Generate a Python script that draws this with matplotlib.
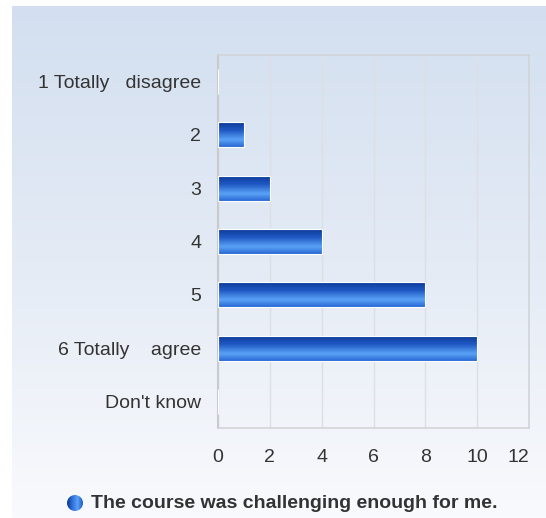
import numpy as np
import matplotlib
matplotlib.use("Agg")
import matplotlib.pyplot as plt
from matplotlib.colors import LinearSegmentedColormap
from matplotlib.patches import Circle

categories = ["1 Totally   disagree", "2", "3", "4", "5", "6 Totally    agree", "Don't know"]
values = [0, 1, 2, 4, 8, 10, 0]
xticks = [0, 2, 4, 6, 8, 10, 12]
legend_label = "The course was challenging enough for me."

plt.rcParams['font.family'] = ['Liberation Sans', 'DejaVu Sans']

W, H = 546, 518
fig = plt.figure(figsize=(W / 100, H / 100), dpi=100)
fig.patch.set_facecolor('white')

# background gradient panel
bg = fig.add_axes([12 / W, 0, 1 - 12 / W, 1 - 6 / H])
bg_cmap = LinearSegmentedColormap.from_list('bg', ['#d3dff0', '#e4ebf5', '#f9fafd'])
bg.imshow(np.linspace(0, 1, 256).reshape(-1, 1), aspect='auto', cmap=bg_cmap,
          extent=[0, 1, 0, 1], origin='upper')
bg.set_axis_off()

ax = fig.add_axes([218 / W, 1 - 428 / H, (529 - 218) / W, (428 - 55) / H])
ax.patch.set_alpha(0)

bar_cmap = LinearSegmentedColormap.from_list(
    'bar', [(0.0, '#0b3893'), (0.35, '#1f58c4'), (0.72, '#5aa2f6'), (1.0, '#2a68d6')])
grad = np.linspace(0, 1, 64).reshape(-1, 1)

ypos = np.arange(len(categories))
h = 0.47
bars = ax.barh(ypos, values, height=h, color='none', edgecolor='white', linewidth=0.8, zorder=3)
for b, v, y in zip(bars, values, ypos):
    if v <= 0:
        continue
    im = ax.imshow(grad, aspect='auto', cmap=bar_cmap,
                   extent=[0, v, y + h / 2, y - h / 2], origin='upper', zorder=2)
    im.set_clip_path(b)

ax.set_xlim(0, 12)
ax.set_ylim(len(categories) - 0.5, -0.5)
ax.set_yticks(ypos)
ax.set_yticklabels(categories, fontsize=14, color='#333333')
ax.set_xticks(xticks)
ax.set_xticklabels([str(t) for t in xticks], fontsize=14, color='#333333')
lbls = ax.get_xticklabels()
lbls[-1].set_horizontalalignment('right')
lbls[-1].set_x(12)
ax.tick_params(axis='y', length=0, pad=12)
ax.tick_params(axis='x', length=0, pad=15)
ax.grid(axis='x', color='#dcdfe4', linewidth=1, zorder=0)
ax.set_axisbelow(True)
for s in ['top', 'right', 'bottom']:
    ax.spines[s].set_color('#d2d4d8')
    ax.spines[s].set_linewidth(1.2)
ax.spines['left'].set_color('#c8cacd')
ax.spines['left'].set_linewidth(1.5)

# legend
cy = 503
lax = fig.add_axes([(75 - 10) / W, 1 - (cy + 10) / H, 20 / W, 20 / H])
lax.set_xlim(-10, 10)
lax.set_ylim(-10, 10)
lax.set_axis_off()
circ = Circle((0, 0), 8, transform=lax.transData, facecolor='none', edgecolor='none')
lax.add_patch(circ)
leg_cmap = LinearSegmentedColormap.from_list('leg', ['#0b3893', '#2f6fdc', '#5aa2f6', '#1f58c4'])
im = lax.imshow(np.linspace(0, 1, 64).reshape(1, -1), aspect='auto', cmap=leg_cmap,
                extent=[-8, 8, -8, 8])
im.set_clip_path(circ)
fig.text(91 / W, 1 - cy / H, legend_label, fontsize=14, fontweight='bold', color='#333333',
         ha='left', va='center')

fig.savefig('out.png', dpi=100)
